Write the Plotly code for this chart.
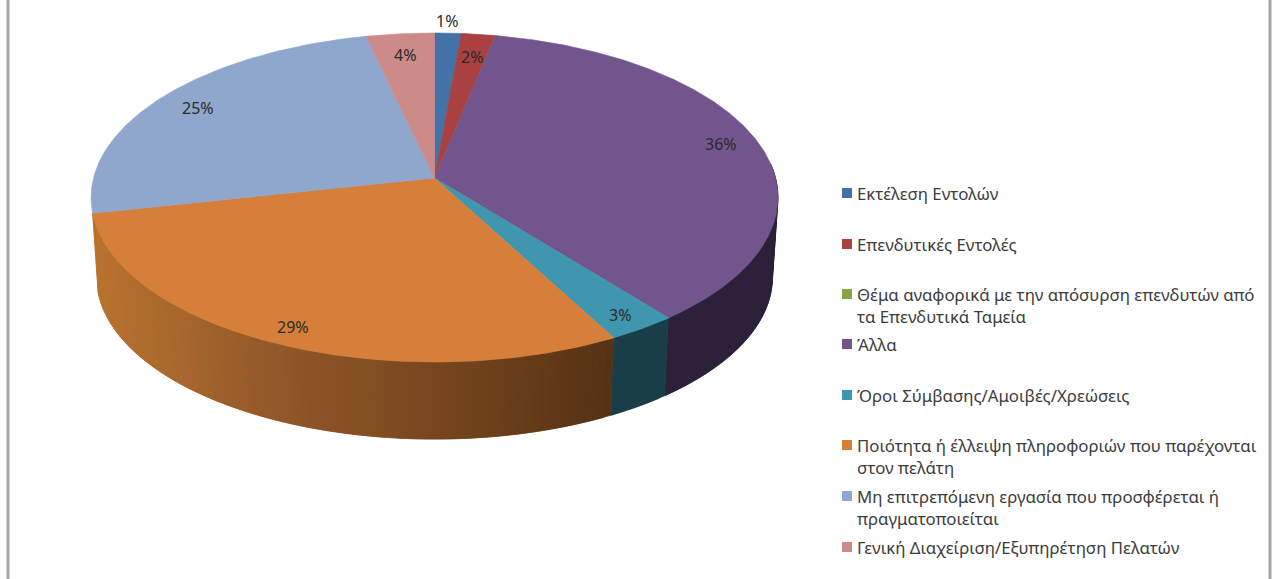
import numpy as np
import plotly.graph_objects as go

categories = ["Εκτέλεση Εντολών", "Επενδυτικές Εντολές",
              "Θέμα αναφορικά με την απόσυρση επενδυτών από<br>τα Επενδυτικά Ταμεία",
              "Άλλα", "Όροι Σύμβασης/Αμοιβές/Χρεώσεις",
              "Ποιότητα ή έλλειψη πληροφοριών που παρέχονται<br>στον πελάτη",
              "Μη επιτρεπόμενη εργασία που προσφέρεται ή<br>πραγματοποιείται",
              "Γενική Διαχείριση/Εξυπηρέτηση Πελατών"]
shares = [1.4, 1.8, 0.0, 36.1, 2.9, 29.4, 24.8, 3.6]
colors = ["#4272a8", "#a8413f", "#86a645", "#71558c", "#3f96ae", "#d67f3a", "#8fa6cd", "#cc8a88"]
wall_colors = ["#2c4566", "#5e2625", "#4d5f28", "#2c2138", "#1a3e49", None, None, None]

W, H = 1277, 579
CX, CY = 434.5, 178.0
RX, RY, K = 341.0, 162.2, 0.1186
WALL_SCALE, WALL_DROP = 0.984, 80.0

label_px = {0: (447, 21), 1: (472, 57), 3: (721, 144), 4: (620, 315), 5: (293, 327), 6: (198, 108), 7: (405, 55)}
legend_y = [193, 244, 294, 344, 395, 445, 496, 547]
orange_stops_x = [-340, -170, 0, 180]
orange_stops_rgb = [(186, 115, 48), (148, 90, 42), (120, 71, 30), (86, 50, 21)]


def project(t):
    x, y = np.sin(t), np.cos(t)
    d = 1 + K * y
    return RX * x / d, RY * y / d


def arc(a, b, step=0.5):
    n = max(2, int(abs(np.degrees(b - a)) / step) + 1)
    return np.linspace(a, b, n)


fig = go.Figure()
edges = np.radians(np.concatenate([[0], np.cumsum(shares)]) * 3.6)


def add_poly(xs, ys, color):
    fig.add_trace(go.Scatter(x=xs, y=ys, mode="lines", fill="toself", fillcolor=color,
                             line=dict(color=color, width=0.6), hoverinfo="skip", showlegend=False))


def wall(a, b, color):
    t = arc(a, b)
    X, Y = project(t)
    bx, by = X * WALL_SCALE, Y * WALL_SCALE - WALL_DROP
    add_poly(np.r_[X, bx[::-1]], np.r_[Y, by[::-1]], color)


# side walls: overlapping strips, so the outline follows the solid's silhouette
near_a = np.radians(85)
for i in range(len(shares)):
    a, b = max(edges[i], near_a), edges[i + 1]
    if b <= a or i > 5:
        continue
    cuts = np.linspace(a, b, int(np.degrees(b - a) / 1.2) + 2)
    for c0, c1, c2 in zip(cuts[:-1], cuts[1:], list(cuts[2:]) + [b]):
        if wall_colors[i] is not None:
            wall(c0, c2, wall_colors[i])
        else:
            xm = project((c0 + c1) / 2)[0]
            rgb = [np.interp(xm, orange_stops_x, [s[j] for s in orange_stops_rgb]) for j in range(3)]
            wall(c0, c2, "rgb(%d,%d,%d)" % tuple(rgb))

# top faces
for i in range(len(shares)):
    if shares[i] <= 0:
        continue
    X, Y = project(arc(edges[i], edges[i + 1]))
    add_poly(np.r_[0, X, 0], np.r_[0, Y, 0], colors[i])

pct = [f"{round(s)}%" for s in shares]
ann, shapes = [], []
for i, (px, py) in label_px.items():
    ann.append(dict(x=px / W, y=1 - py / H, xref="paper", yref="paper", text=pct[i], showarrow=False,
                    xanchor="center", yanchor="middle", font=dict(family="Noto Sans", size=16, color="#2b2b2b")))
for name, ly, c in zip(categories, legend_y, colors):
    shapes.append(dict(type="rect", xref="paper", yref="paper", x0=842 / W, x1=852 / W,
                       y0=1 - (ly + 5) / H, y1=1 - (ly - 5) / H, fillcolor=c, line_width=0))
    ann.append(dict(x=855.5 / W, y=1 - (ly - 12) / H, xref="paper", yref="paper", text=name, showarrow=False,
                    xanchor="left", yanchor="top", align="left",
                    font=dict(family="Noto Sans", size=16.8, color="#3c3c3c"), borderpad=0))
for bx in (8, 1270):
    shapes.append(dict(type="line", xref="paper", yref="paper", x0=bx / W, x1=bx / W, y0=0, y1=1,
                       line=dict(color="#a3a6ab", width=3)))

fig.update_layout(
    width=W, height=H, margin=dict(l=0, r=0, t=0, b=0), paper_bgcolor="white", plot_bgcolor="white",
    xaxis=dict(range=[-CX, W - CX], visible=False, fixedrange=True),
    yaxis=dict(range=[CY - H, CY], visible=False, fixedrange=True),
    annotations=ann, shapes=shapes, showlegend=False,
)
fig.write_html("out.html", config=dict(displayModeBar=False),
               post_script="document.documentElement.style.overflow='hidden';document.body.style.margin='0';")
